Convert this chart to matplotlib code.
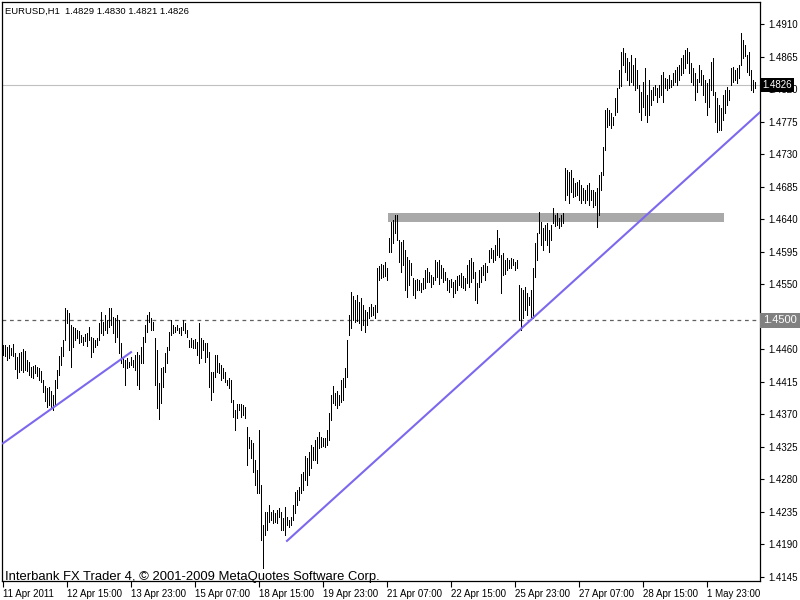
"""
EURUSD H1 bar chart, MT4 style, with two trend lines,
a resistance zone and the 1.4500 level.
"""

import matplotlib
matplotlib.use("Agg")
import matplotlib.pyplot as plt
from matplotlib.patches import Rectangle

plt.rcParams["font.family"] = ["Liberation Sans", "DejaVu Sans"]

symbol = "EURUSD,H1"
last_ohlc = [1.4829, 1.4830, 1.4821, 1.4826]
copyright_text = "Interbank FX Trader 4, \u00a9 2001-2009 MetaQuotes Software Corp."

# hourly highs / lows (one per bar, 11 Apr -> 2 May 2011)
high = [
    1.4466, 1.4466, 1.4463, 1.4466, 1.4462, 1.4467, 1.4455, 1.4449, 1.4455, 1.4456,
    1.4461, 1.4458, 1.4445, 1.4442, 1.4435, 1.4437, 1.4438, 1.4435, 1.4434, 1.4430,
    1.4418, 1.4409, 1.4406, 1.4408, 1.4402, 1.4397, 1.4418, 1.4431, 1.4451, 1.4463,
    1.4473, 1.4517, 1.4514, 1.4510, 1.4494, 1.4491, 1.4489, 1.4487, 1.4485, 1.4480,
    1.4477, 1.4481, 1.4483, 1.4491, 1.4477, 1.4476, 1.4473, 1.4476, 1.4496, 1.4512,
    1.4498, 1.4507, 1.4500, 1.4517, 1.4517, 1.4505, 1.4503, 1.4507, 1.4500, 1.4469,
    1.4448, 1.4445, 1.4448, 1.4442, 1.4449, 1.4445, 1.4452, 1.4456, 1.4452, 1.4463,
    1.4477, 1.4494, 1.4507, 1.4512, 1.4503, 1.4498, 1.4476, 1.4459, 1.4413, 1.4434,
    1.4435, 1.4455, 1.4463, 1.4484, 1.4500, 1.4494, 1.4491, 1.4494, 1.4489, 1.4491,
    1.4500, 1.4496, 1.4487, 1.4473, 1.4476, 1.4473, 1.4474, 1.4470, 1.4496, 1.4476,
    1.4473, 1.4469, 1.4469, 1.4456, 1.4429, 1.4429, 1.4452, 1.4452, 1.4441, 1.4438,
    1.4434, 1.4429, 1.4418, 1.4420, 1.4418, 1.4390, 1.4376, 1.4385, 1.4385, 1.4385,
    1.4383, 1.4380, 1.4353, 1.4339, 1.4335, 1.4330, 1.4307, 1.4293, 1.4348, 1.4272,
    1.4217, 1.4235, 1.4235, 1.4245, 1.4235, 1.4238, 1.4233, 1.4238, 1.4240, 1.4235,
    1.4227, 1.4242, 1.4228, 1.4224, 1.4228, 1.4245, 1.4263, 1.4265, 1.4270, 1.4288,
    1.4290, 1.4312, 1.4310, 1.4318, 1.4328, 1.4325, 1.4335, 1.4339, 1.4346, 1.4339,
    1.4337, 1.4337, 1.4348, 1.4372, 1.4397, 1.4409, 1.4400, 1.4402, 1.4397, 1.4418,
    1.4420, 1.4434, 1.4473, 1.4507, 1.4539, 1.4534, 1.4528, 1.4535, 1.4525, 1.4531,
    1.4521, 1.4514, 1.4512, 1.4519, 1.4523, 1.4519, 1.4521, 1.4572, 1.4575, 1.4578,
    1.4577, 1.4581, 1.4572, 1.4614, 1.4636, 1.4639, 1.4646, 1.4646, 1.4611, 1.4608,
    1.4611, 1.4597, 1.4588, 1.4584, 1.4579, 1.4559, 1.4556, 1.4557, 1.4556, 1.4552,
    1.4559, 1.4570, 1.4572, 1.4567, 1.4563, 1.4560, 1.4584, 1.4581, 1.4584, 1.4577,
    1.4572, 1.4567, 1.4559, 1.4556, 1.4557, 1.4553, 1.4556, 1.4561, 1.4563, 1.4566,
    1.4561, 1.4559, 1.4577, 1.4584, 1.4586, 1.4581, 1.4567, 1.4552, 1.4570, 1.4574,
    1.4577, 1.4579, 1.4575, 1.4597, 1.4600, 1.4597, 1.4604, 1.4625, 1.4614, 1.4590,
    1.4593, 1.4584, 1.4586, 1.4584, 1.4586, 1.4585, 1.4581, 1.4584, 1.4549, 1.4545,
    1.4542, 1.4546, 1.4538, 1.4532, 1.4542, 1.4572, 1.4607, 1.4621, 1.4650, 1.4636,
    1.4628, 1.4632, 1.4635, 1.4625, 1.4632, 1.4655, 1.4646, 1.4649, 1.4642, 1.4646,
    1.4649, 1.4711, 1.4708, 1.4705, 1.4708, 1.4697, 1.4690, 1.4691, 1.4694, 1.4687,
    1.4683, 1.4680, 1.4687, 1.4690, 1.4680, 1.4680, 1.4678, 1.4683, 1.4701, 1.4705,
    1.4740, 1.4791, 1.4794, 1.4791, 1.4787, 1.4781, 1.4808, 1.4822, 1.4846, 1.4871,
    1.4877, 1.4870, 1.4863, 1.4857, 1.4867, 1.4853, 1.4863, 1.4846, 1.4826, 1.4816,
    1.4830, 1.4849, 1.4812, 1.4833, 1.4819, 1.4823, 1.4826, 1.4822, 1.4826, 1.4839,
    1.4844, 1.4835, 1.4834, 1.4839, 1.4833, 1.4842, 1.4846, 1.4851, 1.4853, 1.4863,
    1.4867, 1.4874, 1.4877, 1.4871, 1.4856, 1.4849, 1.4842, 1.4834, 1.4853, 1.4846,
    1.4839, 1.4833, 1.4828, 1.4834, 1.4857, 1.4863, 1.4816, 1.4808, 1.4798, 1.4794,
    1.4812, 1.4819, 1.4823, 1.4819, 1.4849, 1.4851, 1.4846, 1.4849, 1.4853, 1.4898,
    1.4888, 1.4881, 1.4867, 1.4871, 1.4846, 1.4833, 1.4830,
]
low = [
    1.4452, 1.4451, 1.4445, 1.4448, 1.4452, 1.4451, 1.4433, 1.4420, 1.4429, 1.4431,
    1.4429, 1.4431, 1.4430, 1.4425, 1.4422, 1.4420, 1.4427, 1.4423, 1.4418, 1.4415,
    1.4401, 1.4389, 1.4380, 1.4383, 1.4379, 1.4376, 1.4383, 1.4406, 1.4425, 1.4438,
    1.4451, 1.4473, 1.4496, 1.4459, 1.4435, 1.4463, 1.4473, 1.4476, 1.4469, 1.4470,
    1.4466, 1.4471, 1.4465, 1.4473, 1.4449, 1.4456, 1.4463, 1.4466, 1.4473, 1.4483,
    1.4480, 1.4487, 1.4483, 1.4491, 1.4494, 1.4483, 1.4470, 1.4477, 1.4455, 1.4441,
    1.4435, 1.4411, 1.4434, 1.4435, 1.4438, 1.4435, 1.4431, 1.4411, 1.4405, 1.4441,
    1.4441, 1.4470, 1.4484, 1.4498, 1.4487, 1.4487, 1.4411, 1.4379, 1.4364, 1.4386,
    1.4408, 1.4429, 1.4441, 1.4459, 1.4480, 1.4483, 1.4484, 1.4487, 1.4483, 1.4480,
    1.4487, 1.4483, 1.4477, 1.4463, 1.4463, 1.4462, 1.4462, 1.4452, 1.4441, 1.4448,
    1.4459, 1.4442, 1.4449, 1.4408, 1.4390, 1.4401, 1.4422, 1.4429, 1.4427, 1.4418,
    1.4420, 1.4415, 1.4411, 1.4406, 1.4387, 1.4366, 1.4348, 1.4365, 1.4376, 1.4366,
    1.4369, 1.4365, 1.4300, 1.4323, 1.4310, 1.4290, 1.4272, 1.4261, 1.4261, 1.4196,
    1.4157, 1.4203, 1.4210, 1.4221, 1.4224, 1.4220, 1.4221, 1.4220, 1.4228, 1.4210,
    1.4210, 1.4203, 1.4217, 1.4214, 1.4217, 1.4224, 1.4234, 1.4245, 1.4252, 1.4261,
    1.4265, 1.4279, 1.4272, 1.4286, 1.4296, 1.4307, 1.4307, 1.4303, 1.4323, 1.4325,
    1.4326, 1.4325, 1.4328, 1.4335, 1.4362, 1.4386, 1.4383, 1.4379, 1.4383, 1.4387,
    1.4390, 1.4408, 1.4422, 1.4480, 1.4489, 1.4501, 1.4498, 1.4499, 1.4496, 1.4487,
    1.4494, 1.4484, 1.4494, 1.4503, 1.4506, 1.4507, 1.4503, 1.4512, 1.4556, 1.4559,
    1.4560, 1.4561, 1.4556, 1.4595, 1.4595, 1.4607, 1.4621, 1.4611, 1.4581, 1.4567,
    1.4577, 1.4542, 1.4532, 1.4549, 1.4563, 1.4535, 1.4531, 1.4542, 1.4542, 1.4539,
    1.4543, 1.4545, 1.4553, 1.4553, 1.4546, 1.4550, 1.4556, 1.4560, 1.4550, 1.4559,
    1.4553, 1.4556, 1.4542, 1.4539, 1.4546, 1.4532, 1.4538, 1.4542, 1.4549, 1.4546,
    1.4545, 1.4542, 1.4552, 1.4546, 1.4553, 1.4559, 1.4528, 1.4524, 1.4546, 1.4553,
    1.4563, 1.4556, 1.4567, 1.4581, 1.4586, 1.4581, 1.4584, 1.4590, 1.4588, 1.4538,
    1.4563, 1.4564, 1.4570, 1.4572, 1.4572, 1.4577, 1.4570, 1.4572, 1.4501, 1.4487,
    1.4503, 1.4514, 1.4507, 1.4521, 1.4505, 1.4503, 1.4560, 1.4584, 1.4621, 1.4604,
    1.4597, 1.4611, 1.4604, 1.4595, 1.4611, 1.4635, 1.4631, 1.4632, 1.4628, 1.4631,
    1.4635, 1.4667, 1.4674, 1.4662, 1.4678, 1.4671, 1.4672, 1.4674, 1.4667, 1.4662,
    1.4667, 1.4662, 1.4667, 1.4660, 1.4667, 1.4657, 1.4660, 1.4629, 1.4646, 1.4680,
    1.4701, 1.4736, 1.4768, 1.4770, 1.4766, 1.4770, 1.4784, 1.4788, 1.4822, 1.4824,
    1.4853, 1.4844, 1.4833, 1.4826, 1.4830, 1.4826, 1.4819, 1.4822, 1.4788, 1.4777,
    1.4795, 1.4784, 1.4774, 1.4784, 1.4798, 1.4805, 1.4812, 1.4802, 1.4809, 1.4812,
    1.4802, 1.4822, 1.4819, 1.4822, 1.4823, 1.4826, 1.4830, 1.4826, 1.4833, 1.4839,
    1.4842, 1.4849, 1.4856, 1.4842, 1.4830, 1.4826, 1.4805, 1.4816, 1.4830, 1.4826,
    1.4812, 1.4802, 1.4784, 1.4795, 1.4819, 1.4812, 1.4774, 1.4761, 1.4763, 1.4763,
    1.4777, 1.4787, 1.4798, 1.4805, 1.4826, 1.4830, 1.4833, 1.4828, 1.4835, 1.4853,
    1.4863, 1.4866, 1.4844, 1.4839, 1.4819, 1.4816, 1.4821,
]

# time axis: one label every 32 bars
time_tick_bars = [0, 32, 64, 96, 128, 160, 192, 224, 256, 288, 320, 352]
time_tick_labels = ["11 Apr 2011", "12 Apr 15:00", "13 Apr 23:00", "15 Apr 07:00",
                    "18 Apr 15:00", "19 Apr 23:00", "21 Apr 07:00", "22 Apr 15:00",
                    "25 Apr 23:00", "27 Apr 07:00", "28 Apr 15:00", "1 May 23:00"]
price_ticks = [1.4145, 1.4190, 1.4235, 1.4280, 1.4325, 1.4370, 1.4415, 1.4460,
               1.4505, 1.4550, 1.4595, 1.4640, 1.4685, 1.4730, 1.4775, 1.4820,
               1.4865, 1.4910]

# drawn objects
bid_price = 1.4826
level_price = 1.4500
zone_bars = [192.5, 360.5]
zone_prices = [1.4636, 1.4649]
trend1_bars, trend1_prices = [0, 64], [1.4330, 1.4456]
trend2_bars, trend2_prices = [142, 378.5], [1.4195, 1.4788]

W, H = 800, 600
fig = plt.figure(figsize=(W / 100, H / 100), dpi=100)
ax = fig.add_axes([2 / W, 19 / H, 758 / W, 579 / H])
ax.set_xlim(-0.5, 378.5)
ax.set_ylim(1.41395, 1.49404)

bars = list(range(len(high)))
ax.vlines(bars, low, high, color="black", lw=0.55, antialiased=False, zorder=2)

ax.axhline(bid_price, color="#c0c0c0", lw=0.8, zorder=0)
ax.axhline(level_price, color="#606060", lw=0.9, ls=(0, (3, 3)), zorder=0)
ax.add_patch(Rectangle((zone_bars[0], zone_prices[0]), zone_bars[1] - zone_bars[0],
                       zone_prices[1] - zone_prices[0], color="#a9a9a9", lw=0, zorder=1))
ax.plot(trend1_bars, trend1_prices, color="#7b68ee", lw=1.5, zorder=3)
ax.plot(trend2_bars, trend2_prices, color="#7b68ee", lw=1.5, zorder=3)

# axes: prices on the right, time at the bottom
ax.yaxis.tick_right()
ax.set_yticks(price_ticks)
ax.set_yticklabels([f"{p:.4f}" for p in price_ticks])
ax.set_xticks(time_tick_bars)
ax.set_xticklabels(time_tick_labels)
for lab in ax.get_xticklabels():
    lab.set_horizontalalignment("left")
ax.tick_params(axis="y", direction="out", length=3, width=0.8, labelsize=7, pad=3)
ax.tick_params(axis="x", direction="out", length=4, width=0.8, labelsize=7, pad=1.5)
for sp in ax.spines.values():
    sp.set_linewidth(0.9)

# price tags on the right (they sit over the 1.4820 / 1.4505 tick labels, as in MT4)
ytf = ax.get_yaxis_transform()
ax.text(1.003, bid_price, f"{bid_price:.4f}", transform=ytf, fontsize=7, color="white",
        va="center", ha="left", zorder=5,
        bbox=dict(facecolor="black", edgecolor="none", pad=1.5))
ax.text(1.004, level_price, f"{level_price:.4f}", transform=ytf, fontsize=8, color="white",
        va="center", ha="left", zorder=5,
        bbox=dict(facecolor="#808080", edgecolor="none", pad=2.0))

header = symbol + "  " + " ".join(f"{v:.4f}" for v in last_ohlc)
fig.text(5 / W, 1 - 11 / H, header, fontsize=6.8, va="center", ha="left")
fig.text(5 / W, 1 - 577 / H, copyright_text, fontsize=9.4, va="center", ha="left")

fig.savefig("out.png", dpi=100, facecolor="white")
plt.close(fig)
